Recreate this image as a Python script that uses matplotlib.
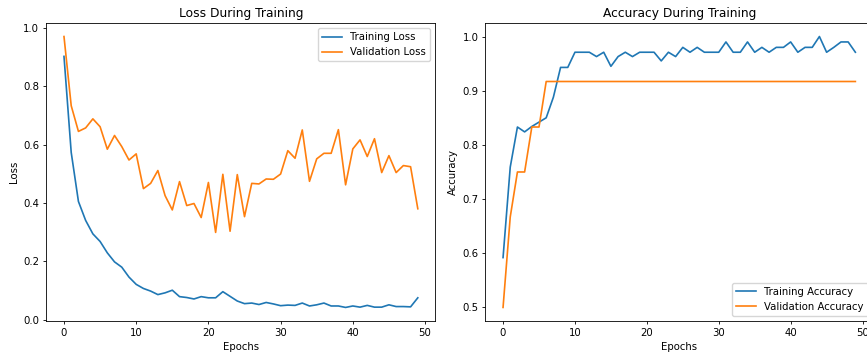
import matplotlib
matplotlib.use("Agg")
import matplotlib.pyplot as plt

epochs = list(range(50))

train_loss = [0.902, 0.573, 0.405, 0.340, 0.294, 0.268, 0.229, 0.198, 0.180, 0.146,
              0.121, 0.107, 0.098, 0.086, 0.092, 0.101, 0.079, 0.076, 0.071, 0.079,
              0.075, 0.075, 0.096, 0.080, 0.064, 0.055, 0.057, 0.052, 0.059, 0.054,
              0.048, 0.050, 0.049, 0.057, 0.047, 0.051, 0.057, 0.047, 0.047, 0.042,
              0.047, 0.043, 0.049, 0.043, 0.043, 0.051, 0.045, 0.045, 0.044, 0.075]

val_loss = [0.970, 0.733, 0.645, 0.657, 0.688, 0.661, 0.584, 0.631, 0.593, 0.547,
            0.568, 0.449, 0.467, 0.511, 0.425, 0.376, 0.473, 0.391, 0.398, 0.350,
            0.470, 0.299, 0.498, 0.303, 0.497, 0.353, 0.467, 0.465, 0.482, 0.481,
            0.499, 0.579, 0.553, 0.650, 0.474, 0.551, 0.570, 0.570, 0.651, 0.462,
            0.585, 0.616, 0.559, 0.620, 0.504, 0.562, 0.504, 0.528, 0.524, 0.380]

train_acc = [0.592, 0.759, 0.833, 0.824, 0.834, 0.842, 0.850, 0.888, 0.943, 0.943,
             0.971, 0.971, 0.971, 0.963, 0.971, 0.945, 0.963, 0.971, 0.963, 0.971,
             0.971, 0.971, 0.955, 0.971, 0.963, 0.980, 0.971, 0.980, 0.971, 0.971,
             0.971, 0.990, 0.971, 0.971, 0.990, 0.971, 0.980, 0.971, 0.980, 0.980,
             0.990, 0.971, 0.980, 0.980, 1.000, 0.971, 0.980, 0.990, 0.990, 0.971]

val_acc = [0.500, 0.667, 0.750, 0.750, 0.833, 0.833] + [0.917] * 44

plt.rcParams.update({
    "font.size": 7.3,
    "axes.titlesize": 8.8,
    "axes.labelsize": 7.3,
    "xtick.labelsize": 7.3,
    "ytick.labelsize": 7.3,
    "legend.fontsize": 7.3,
    "lines.linewidth": 1.2,
    "axes.linewidth": 0.6,
    "xtick.major.size": 2.5,
    "ytick.major.size": 2.5,
    "xtick.major.width": 0.6,
    "ytick.major.width": 0.6,
    "xtick.major.pad": 2.5,
    "ytick.major.pad": 2.5,
    "axes.titlepad": 4.3,
    "axes.labelpad": 2.9,
})

fig = plt.figure(figsize=(8.67, 3.53), dpi=100)
ax1 = fig.add_axes([0.0534, 0.0907, 0.4489, 0.8442])
ax2 = fig.add_axes([0.5599, 0.0907, 0.4470, 0.8442])

ax1.plot(epochs, train_loss, label="Training Loss")
ax1.plot(epochs, val_loss, label="Validation Loss")
ax1.set_title("Loss During Training")
ax1.set_xlabel("Epochs")
ax1.set_ylabel("Loss")
ax1.legend(loc="upper right")

ax2.plot(epochs, train_acc, label="Training Accuracy")
ax2.plot(epochs, val_acc, label="Validation Accuracy")
ax2.set_title("Accuracy During Training")
ax2.set_xlabel("Epochs")
ax2.set_ylabel("Accuracy")
ax2.legend(loc="lower right")

fig.savefig("out.png", dpi=100)
